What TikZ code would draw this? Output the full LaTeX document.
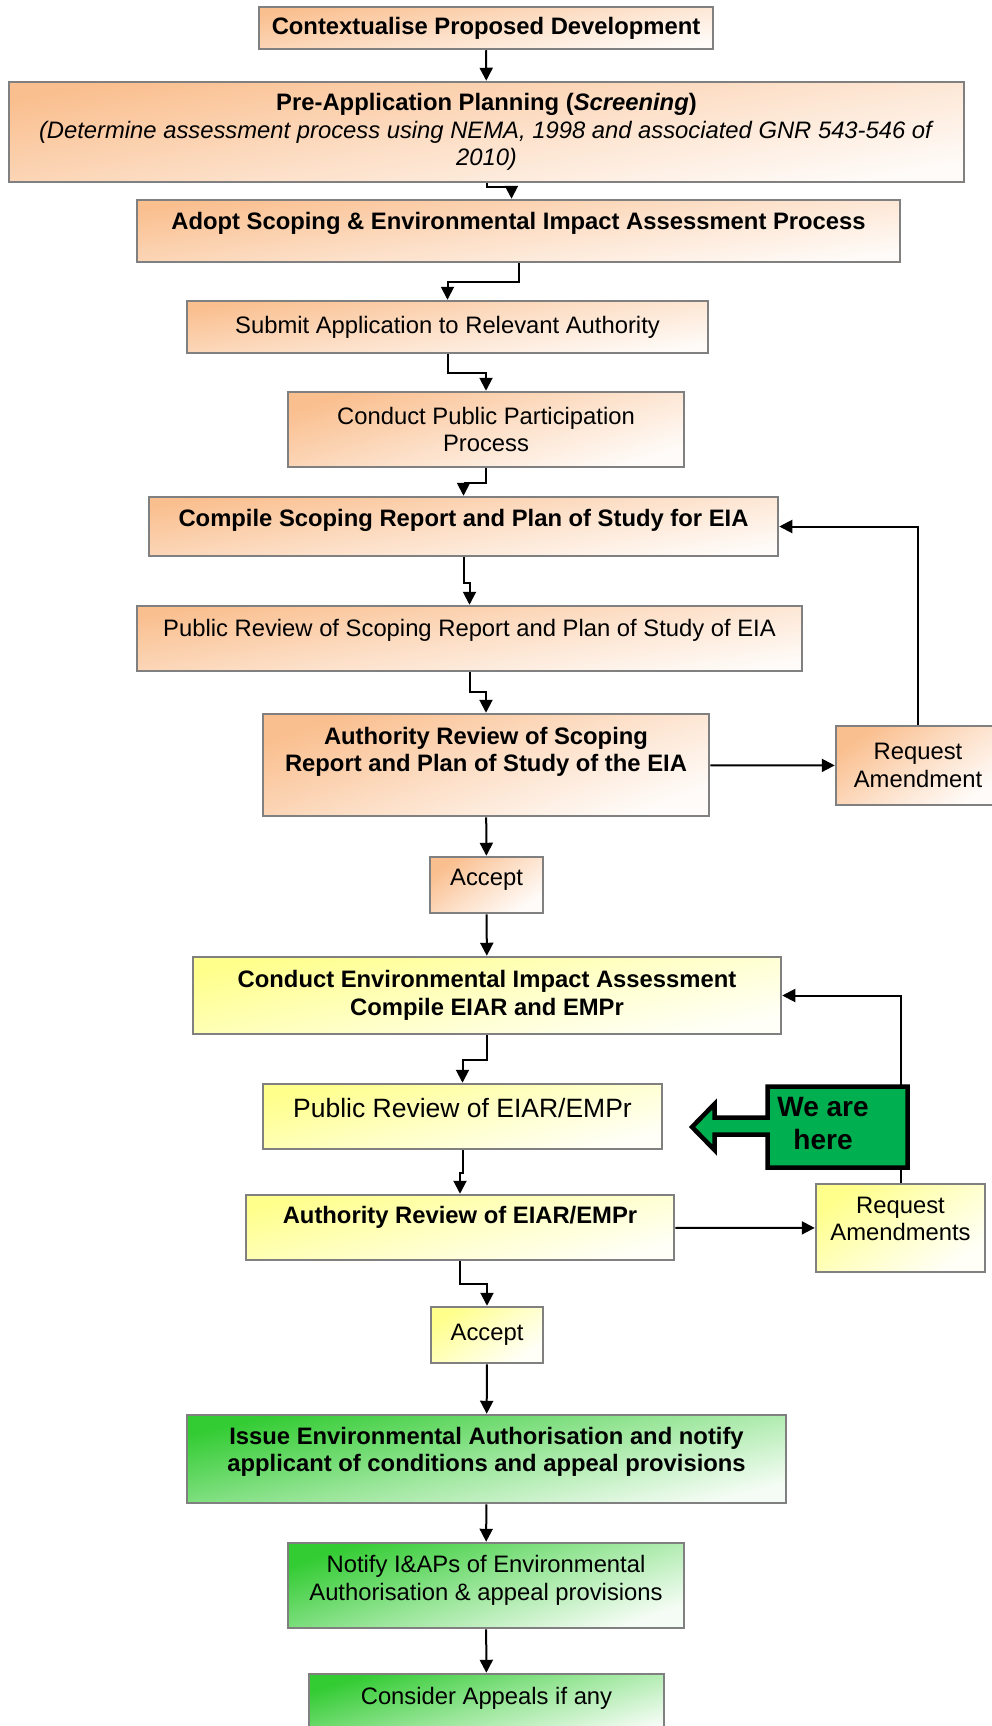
\documentclass[tikz,border=0pt]{standalone}
\usepackage{fontspec}
\setmainfont{Liberation Sans}
\usetikzlibrary{arrows.meta}

\definecolor{orangefill}{RGB}{250,191,143}
\definecolor{yellowfill}{RGB}{255,255,140}
\definecolor{greenfill}{RGB}{51,204,51}
\definecolor{herefill}{RGB}{0,176,80}
\definecolor{boxline}{RGB}{128,128,128}

\begin{document}
\begin{tikzpicture}[x=1pt,y=-1pt,
    box/.style={draw=boxline, line width=2.5pt, align=center, inner sep=2pt,
      font=\fontsize{23.8}{27.5}\selectfont},
    orangebox/.style={box, top color=orangefill, bottom color=orangefill!6,
      middle color=orangefill!50},
    yellowbox/.style={box, top color=yellowfill, bottom color=yellowfill!6,
      middle color=yellowfill!50},
    greenbox/.style={box, top color=greenfill, bottom color=greenfill!5,
      middle color=greenfill!50},
    % width, height, tilt of the shading
    boxsize/.style n args={3}{minimum width=#1pt, minimum height=#2pt, shading angle=#3},
    lift/.style={text depth=#1},
    arr/.style={line width=2pt, -{Triangle[length=13pt,width=13pt]}},
    hereshape/.style={draw=black, line width=4.5pt, fill=herefill, line join=miter},
    heretext/.style={align=center, inner sep=0pt, font=\bfseries\fontsize{28}{33}\selectfont}]
    \useasboundingbox (0,0) rectangle (992,1726);
    \clip (0,0) rectangle (992,1726);

    % scoping phase
    \node[orangebox, boxsize={454}{42}{9}] (ctx) at (486,28)
      {\bfseries Contextualise Proposed Development};
    \node[orangebox, boxsize={955}{100}{10}] (pre) at (486.5,132)
      {\textbf{Pre-Application Planning (\textit{Screening})}\\
       \textit{(Determine assessment process using NEMA, 1998 and associated GNR 543-546 of}\\
       \textit{2010)}};
    \node[orangebox, lift=21pt, boxsize={763}{62}{8}] (adopt) at (518.5,231)
      {\bfseries Adopt Scoping \& Environmental Impact Assessment Process};
    \node[orangebox, boxsize={521}{52}{9}] (submit) at (447.5,327)
      {Submit Application to Relevant Authority};
    \node[orangebox, boxsize={396}{75}{17}] (ppp) at (486,429.5)
      {Conduct Public Participation\\Process};
    \node[orangebox, lift=17pt, boxsize={629}{59}{9}] (compile) at (463.5,526.5)
      {\bfseries Compile Scoping Report and Plan of Study for EIA};
    \node[orangebox, lift=21pt, boxsize={665}{65}{9}] (prs) at (469.5,638.5)
      {Public Review of Scoping Report and Plan of Study of EIA};
    \node[orangebox, lift=31pt, boxsize={446}{102}{20}] (auth1) at (486,765)
      {\bfseries Authority Review of Scoping\\\bfseries Report and Plan of Study of the EIA};
    \node[orangebox, boxsize={164}{79}{35}] (req1) at (918,765.5)
      {Request\\Amendment};
    \node[orangebox, lift=15pt, boxsize={113}{56}{35}] (acc1) at (486.5,885)
      {Accept};

    % EIA phase
    \node[yellowbox, boxsize={588}{77}{12}] (eia) at (487,995.5)
      {\bfseries Conduct Environmental Impact Assessment\\\bfseries Compile EIAR and EMPr};
    \node[yellowbox, lift=17pt, boxsize={399}{65}{15},
      font=\fontsize{26.5}{30}\selectfont] (pr2) at (462.5,1116.5)
      {Public Review of EIAR/EMPr};
    \node[yellowbox, lift=25pt, boxsize={428}{65}{14}] (auth2) at (460,1227.5)
      {\bfseries Authority Review of EIAR/EMPr};
    \node[yellowbox, lift=18pt, boxsize={169}{88}{35}] (req2) at (900.5,1228)
      {Request\\Amendments};
    \node[yellowbox, boxsize={112}{56}{35}] (acc2) at (487,1335)
      {Accept};

    % decision
    \node[greenbox, lift=19pt, boxsize={599}{88}{13}] (issue) at (486.5,1459)
      {\bfseries Issue Environmental Authorisation and notify\\\bfseries applicant of conditions and appeal provisions};
    \node[greenbox, lift=15pt, boxsize={396}{85}{19}] (notify) at (486,1585.5)
      {Notify I\&APs of Environmental\\Authorisation \& appeal provisions};
    \node[greenbox, lift=23pt, boxsize={355}{66}{17}] (consider) at (486.5,1707)
      {Consider Appeals if any};

    % connectors
    \draw[arr] (ctx) -- (pre);
    \draw[arr] (pre.south) -- ++(0,4) -| ([xshift=-7pt]adopt.north);
    \draw[arr] (adopt.south) -- ++(0,19) -| (submit.north);
    \draw[arr] (submit.south) -- ++(0,19) -| (ppp.north);
    \draw[arr] (ppp.south) -- ++(0,15) -| (compile.north);
    \draw[arr] (compile.south) -- ++(0,26) -| (prs.north);
    \draw[arr] (prs.south) -- ++(0,20) -| (auth1.north);
    \draw[arr] (auth1) -- (acc1);
    \draw[arr] (auth1) -- (req1);
    \draw[arr] (req1.north) |- (compile.east);
    \draw[arr] (acc1) -- (eia);
    \draw[arr] (eia.south) -- ++(0,25) -| (pr2.north);
    \draw[arr] (pr2.south) -- ++(0,23) -| (auth2.north);
    \draw[arr] (auth2) -- (req2);
    \draw[arr] (req2.north) |- (eia.east);
    \draw[arr] (auth2.south) -- ++(0,23) -| (acc2.north);
    \draw[arr] (acc2) -- (issue);
    \draw[arr] (issue) -- (notify);
    \draw[arr] (notify) -- (consider);

    % we are here
    \draw[hereshape] (767.5,1086.5) -- (907.5,1086.5) -- (907.5,1167.5) -- (767.5,1167.5)
      -- (767.5,1134.5) -- (714.5,1134.5) -- (714.5,1150) -- (692,1127) -- (714.5,1104)
      -- (714.5,1117.5) -- (767.5,1117.5) -- cycle;
    \node[heretext] (here) at (823,1123) {We are\\here};
\end{tikzpicture}
\end{document}
